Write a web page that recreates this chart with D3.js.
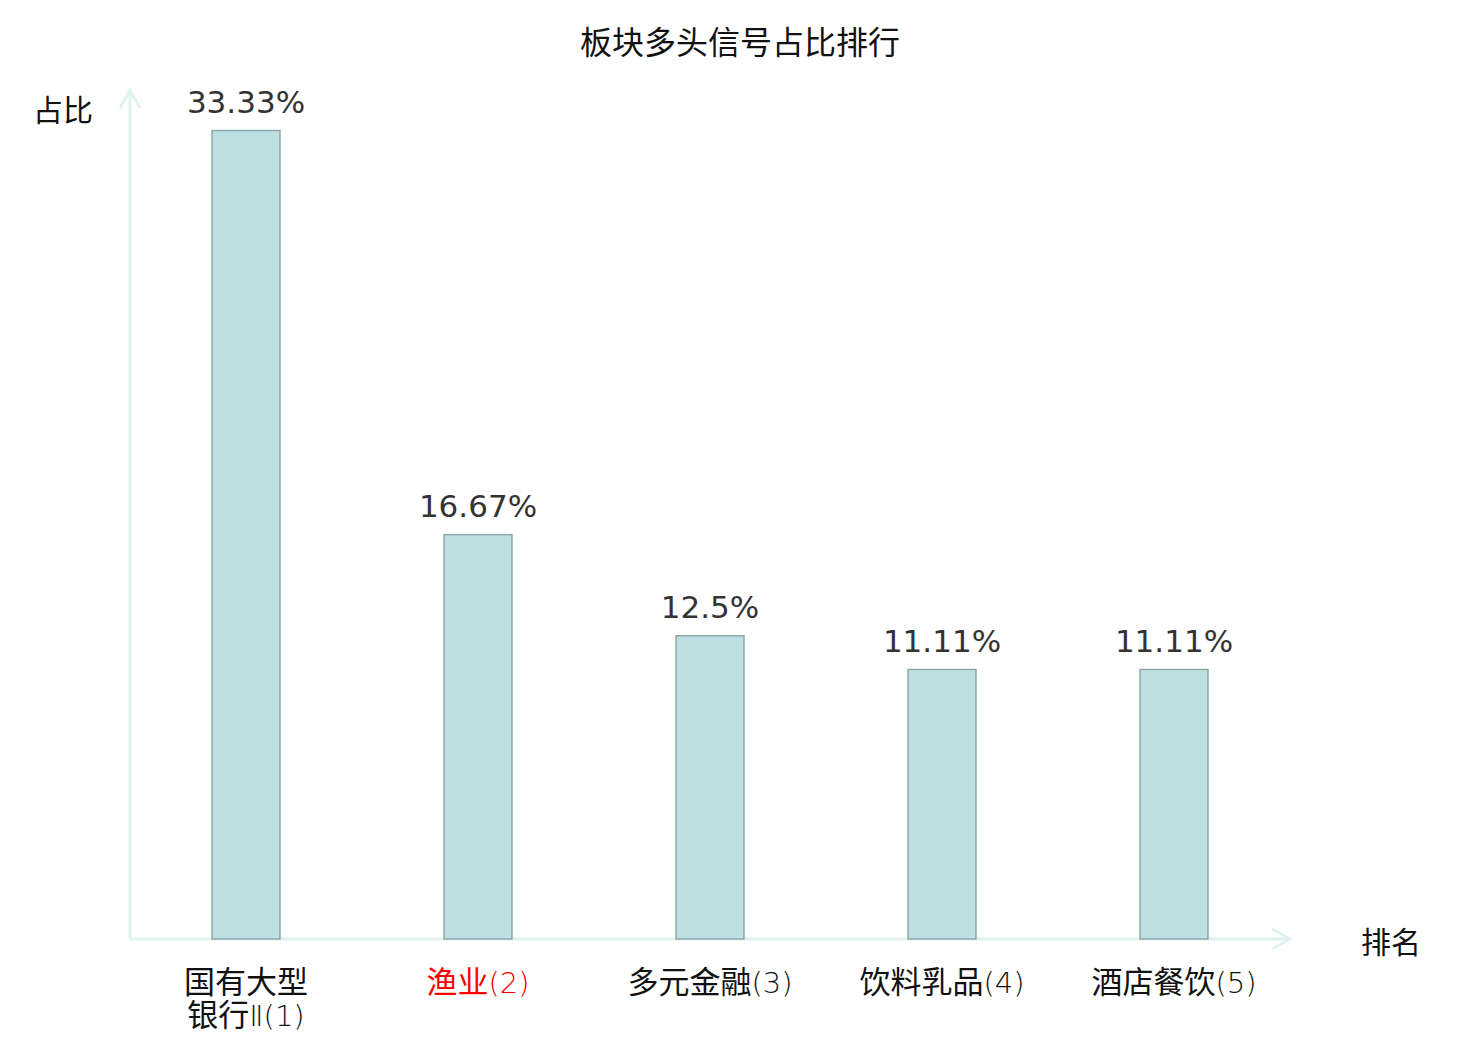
<!DOCTYPE html>
<html>
<head>
<meta charset="utf-8">
<script src="https://cdn.jsdelivr.net/npm/d3@7"></script>
<style>
  body { margin: 0; background: #fff; }
  text { font-family: "Noto Sans CJK SC", "DejaVu Sans", sans-serif; }
</style>
</head>
<body>
<div id="chart"></div>
<script>
const categories = ["国有大型银行Ⅱ(1)", "渔业(2)", "多元金融(3)", "饮料乳品(4)", "酒店餐饮(5)"];
const labelLines = [["国有大型", "银行|Ⅱ(1)"], ["渔业|(2)"], ["多元金融|(3)"], ["饮料乳品|(4)"], ["酒店餐饮|(5)"]];
const values = [33.33, 16.67, 12.5, 11.11, 11.11];
const valueLabels = ["33.33%", "16.67%", "12.5%", "11.11%", "11.11%"];
const highlighted = ["渔业(2)"];

const width = 1480;
const height = 1040;
const margin = { top: 90, right: 190, bottom: 101, left: 130 };

const svg = d3.select("#chart")
    .append("svg")
    .attr("width", width)
    .attr("height", height);

const x = d3.scaleBand()
    .domain(categories)
    .range([margin.left, width - margin.right])
    .paddingInner(0.707)
    .paddingOuter(0.3535);

const y = d3.scaleLinear()
    .domain([0, 35])
    .range([height - margin.bottom, margin.top]);

const axisColor = "#dff2ef";
const y0 = y(0);

// axis lines with arrows
svg.append("line")
    .attr("x1", margin.left).attr("x2", margin.left)
    .attr("y1", y0).attr("y2", margin.top)
    .attr("stroke", axisColor).attr("stroke-width", 3);
svg.append("path")
    .attr("d", `M${margin.left - 10},${margin.top + 18}L${margin.left},${margin.top}L${margin.left + 10},${margin.top + 18}`)
    .attr("fill", "none").attr("stroke", axisColor).attr("stroke-width", 3);

const xEnd = width - margin.right;
svg.append("line")
    .attr("x1", margin.left).attr("x2", xEnd)
    .attr("y1", y0).attr("y2", y0)
    .attr("stroke", axisColor).attr("stroke-width", 3);
svg.append("path")
    .attr("d", `M${xEnd - 18},${y0 - 10}L${xEnd},${y0}L${xEnd - 18},${y0 + 10}`)
    .attr("fill", "none").attr("stroke", axisColor).attr("stroke-width", 3);

// bars
svg.selectAll(".bar")
    .data(categories)
    .enter()
    .append("rect")
    .attr("class", "bar")
    .attr("x", d => x(d))
    .attr("y", (d, i) => y(values[i]))
    .attr("width", x.bandwidth())
    .attr("height", (d, i) => y0 - y(values[i]))
    .attr("fill", "#bce0e2")
    .attr("stroke", "#8fa9a9")
    .attr("stroke-width", 1.5);

// value labels
svg.selectAll(".val")
    .data(categories)
    .enter()
    .append("text")
    .attr("class", "val")
    .attr("x", d => x(d) + x.bandwidth() / 2)
    .attr("y", (d, i) => y(values[i]) - 18)
    .attr("text-anchor", "middle")
    .style("font-family", "'DejaVu Sans', sans-serif")
    .style("font-size", "31px")
    .attr("fill", "#333")
    .text((d, i) => valueLabels[i]);

// category labels (part after "|" drawn in a lighter latin face)
const cat = svg.selectAll(".cat")
    .data(categories)
    .enter()
    .append("text")
    .attr("class", "cat")
    .attr("y", y0 + 54)
    .attr("text-anchor", "middle")
    .style("font-size", "31px")
    .attr("fill", d => highlighted.includes(d) ? "#ff0000" : "#111");
cat.each(function (d, i) {
    const t = d3.select(this);
    const cx = x(d) + x.bandwidth() / 2;
    labelLines[i].forEach((line, j) => {
        const parts = line.split("|");
        t.append("tspan")
            .attr("x", cx)
            .attr("dy", j === 0 ? 0 : 33)
            .text(parts[0]);
        if (parts[1]) {
            t.append("tspan")
                .style("font-family", "'DejaVu Sans', sans-serif")
                .style("font-weight", 200)
                .style("font-size", "29px")
                .text(parts[1]);
        }
    });
});

// axis names
svg.append("text")
    .attr("x", 63).attr("y", 121)
    .attr("text-anchor", "middle")
    .style("font-size", "30px")
    .attr("fill", "#111")
    .text("占比");
svg.append("text")
    .attr("x", 1391).attr("y", 953)
    .attr("text-anchor", "middle")
    .style("font-size", "30px")
    .attr("fill", "#111")
    .text("排名");

// title
svg.append("text")
    .attr("x", width / 2).attr("y", 54)
    .attr("text-anchor", "middle")
    .style("font-size", "32px")
    .attr("fill", "#111")
    .text("板块多头信号占比排行");
</script>
</body>
</html>
